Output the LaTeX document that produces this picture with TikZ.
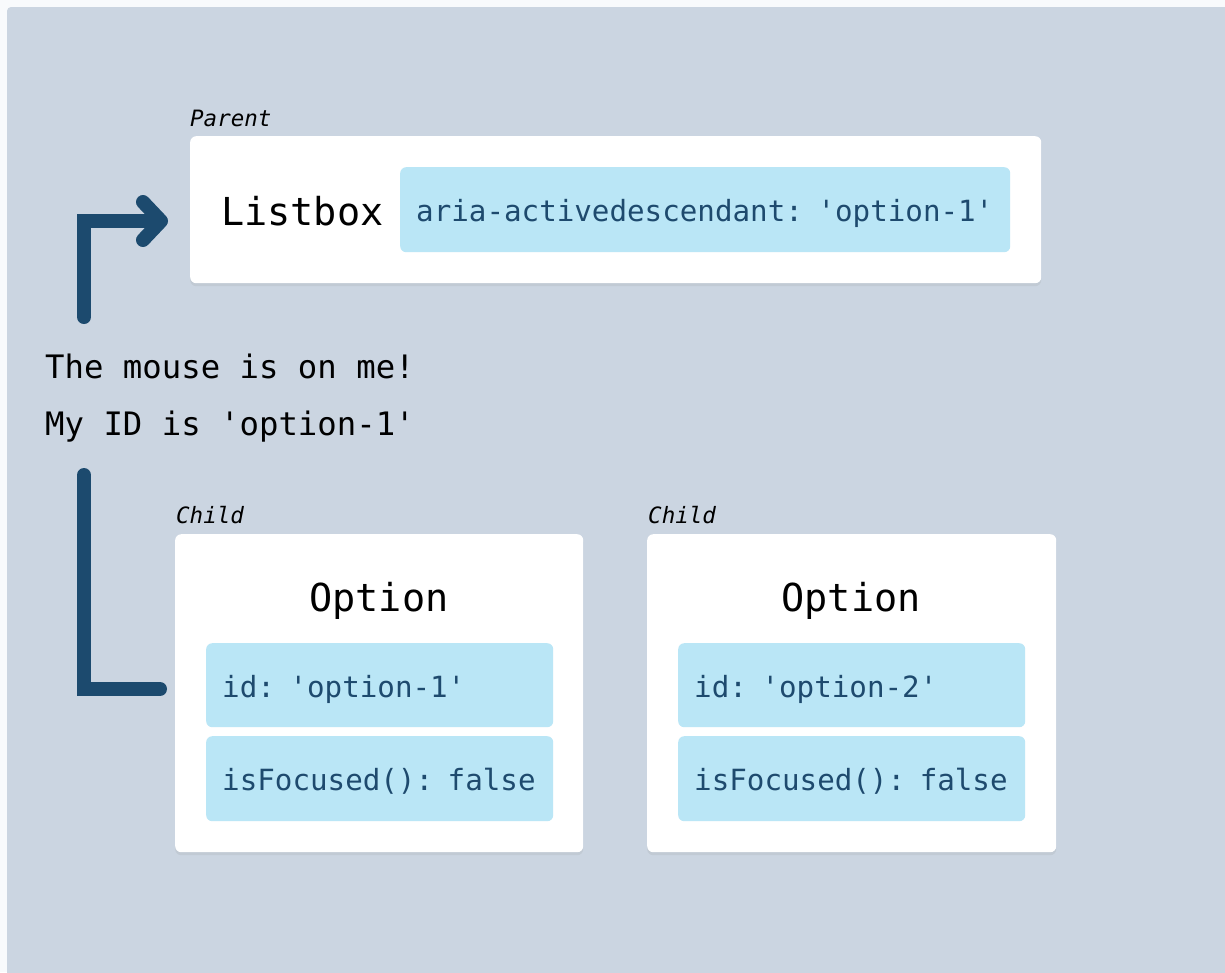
\documentclass[tikz,border=0pt]{standalone}
\usepackage{fontspec}
\setmainfont{DejaVu Sans Mono}[Ligatures=TeXOff]
\usetikzlibrary{shadows,arrows.meta}
\definecolor{pagebg}{HTML}{F8FAFC}
\definecolor{canvas}{HTML}{CBD5E1}
\definecolor{chip}{HTML}{BAE6F6}
\definecolor{chiptext}{HTML}{1E4A6E}
\definecolor{wire}{HTML}{1C4A6E}
\tikzset{
  card/.style={fill=white, rounded corners=6pt, inner sep=0pt, anchor=north west,
    drop shadow={shadow xshift=0pt, shadow yshift=-3pt, opacity=0.13}},
  chipbox/.style={fill=chip, rounded corners=6pt, anchor=north west, inner xsep=16pt,
    inner ysep=0pt, text=chiptext, font=\fontsize{29.2}{34}\selectfont, align=left,
    text height=24pt, text depth=0pt},
  title/.style={font=\fontsize{38.5}{44}\selectfont, inner sep=0pt},
  tag/.style={font=\itshape\fontsize{22.5}{26}\selectfont, anchor=base west, inner sep=0pt},
  note/.style={font=\fontsize{32.3}{38}\selectfont, anchor=base west, inner sep=0pt},
  wireline/.style={draw=wire, line width=14pt},
}
\begin{document}
\begin{tikzpicture}[x=1pt, y=-1pt]
  \useasboundingbox (0,0) rectangle (1225,972);
  \fill[pagebg] (0,0) rectangle (1225,972);
  \fill[canvas, rounded corners=4pt] (7,7) rectangle (1240,990);

  % parent listbox
  \node[tag] (ptag) at (190,126) {Parent};
  \node[card, minimum width=851pt, minimum height=147pt] (parent) at (190,136) {};
  \node[title, anchor=base west] (lbx) at (221,225) {Listbox};
  \node[chipbox, text width=578pt, minimum height=85pt] (aria) at (400,167)
    {aria-activedescendant: 'option-1'};

  % hover note
  \node[note] (mouse1) at (45,378) {The mouse is on me!};
  \node[note] (mouse2) at (45,435) {My ID is 'option-1'};

  % first child option
  \node[tag] (ctag1) at (176,523) {Child};
  \node[card, minimum width=408pt, minimum height=318pt] (child1) at (175,534) {};
  \node[title, anchor=base] (opt1) at (379,611) {Option};
  \node[chipbox, text width=315pt, minimum height=84pt] (id1) at (206,643) {id: 'option-1'};
  \node[chipbox, text width=315pt, minimum height=85pt] (foc1) at (206,736) {isFocused(): false};

  % second child option
  \node[tag] (ctag2) at (648,523) {Child};
  \node[card, minimum width=409pt, minimum height=318pt] (child2) at (647,534) {};
  \node[title, anchor=base] (opt2) at (851,611) {Option};
  \node[chipbox, text width=315pt, minimum height=84pt] (id2) at (678,643) {id: 'option-2'};
  \node[chipbox, text width=315pt, minimum height=85pt] (foc2) at (678,736) {isFocused(): false};

  % connectors
  \coordinate (up0) at (84,317);
  \coordinate (up1) at (168,221);
  \draw[wireline, line cap=round, -{Straight Barb[round, length=18pt, width=38pt]}] (up0) |- (up1);
  \coordinate (dn0) at (84,475);
  \coordinate (dn1) at (160,689);
  \draw[wireline, line cap=round] (dn0) |- (dn1);
\end{tikzpicture}
\end{document}
